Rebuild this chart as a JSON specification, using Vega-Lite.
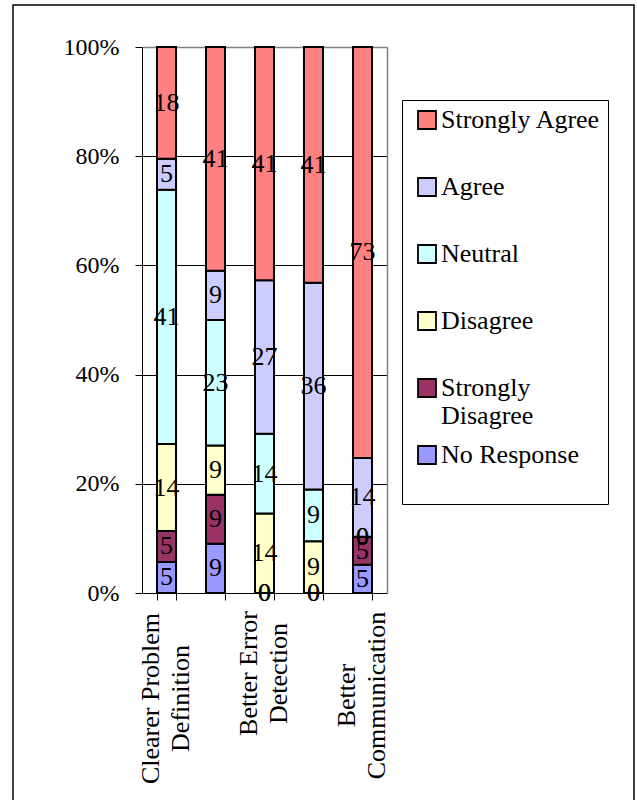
{
  "$schema": "https://vega.github.io/schema/vega-lite/v6.json",
  "autosize": {"type": "none"},
  "width": 621,
  "height": 797,
  "padding": {"left": 13, "top": 5, "right": 3, "bottom": 0},
  "background": "white",
  "config": {
    "font": "Liberation Serif",
    "view": {"stroke": "black", "strokeWidth": 1.5, "fill": "white"}
  },
  "data": {
    "values": [
      {"question": "Clearer Problem Definition", "response": "No Response", "code": 0, "count": 5},
      {"question": "Clearer Problem Definition", "response": "Strongly Disagree", "code": 1, "count": 5},
      {"question": "Clearer Problem Definition", "response": "Disagree", "code": 2, "count": 14},
      {"question": "Clearer Problem Definition", "response": "Neutral", "code": 3, "count": 41},
      {"question": "Clearer Problem Definition", "response": "Agree", "code": 4, "count": 5},
      {"question": "Clearer Problem Definition", "response": "Strongly Agree", "code": 5, "count": 18},
      {"question": "Item 2", "response": "No Response", "code": 0, "count": 9},
      {"question": "Item 2", "response": "Strongly Disagree", "code": 1, "count": 9},
      {"question": "Item 2", "response": "Disagree", "code": 2, "count": 9},
      {"question": "Item 2", "response": "Neutral", "code": 3, "count": 23},
      {"question": "Item 2", "response": "Agree", "code": 4, "count": 9},
      {"question": "Item 2", "response": "Strongly Agree", "code": 5, "count": 41},
      {"question": "Better Error Detection", "response": "No Response", "code": 0, "count": 0},
      {"question": "Better Error Detection", "response": "Strongly Disagree", "code": 1, "count": 0},
      {"question": "Better Error Detection", "response": "Disagree", "code": 2, "count": 14},
      {"question": "Better Error Detection", "response": "Neutral", "code": 3, "count": 14},
      {"question": "Better Error Detection", "response": "Agree", "code": 4, "count": 27},
      {"question": "Better Error Detection", "response": "Strongly Agree", "code": 5, "count": 41},
      {"question": "Item 4", "response": "No Response", "code": 0, "count": 0},
      {"question": "Item 4", "response": "Strongly Disagree", "code": 1, "count": 0},
      {"question": "Item 4", "response": "Disagree", "code": 2, "count": 9},
      {"question": "Item 4", "response": "Neutral", "code": 3, "count": 9},
      {"question": "Item 4", "response": "Agree", "code": 4, "count": 36},
      {"question": "Item 4", "response": "Strongly Agree", "code": 5, "count": 41},
      {"question": "Better Communication", "response": "No Response", "code": 0, "count": 5},
      {"question": "Better Communication", "response": "Strongly Disagree", "code": 1, "count": 5},
      {"question": "Better Communication", "response": "Disagree", "code": 2, "count": 0},
      {"question": "Better Communication", "response": "Neutral", "code": 3, "count": 0},
      {"question": "Better Communication", "response": "Agree", "code": 4, "count": 14},
      {"question": "Better Communication", "response": "Strongly Agree", "code": 5, "count": 73}
    ]
  },
  "transform": [
    {"stack": "count", "groupby": ["question"], "sort": [{"field": "code", "order": "ascending"}], "offset": "normalize", "as": ["y0", "y1"]},
    {"calculate": "(datum.y0 + datum.y1) / 2", "as": "ymid"}
  ],
  "resolve": {"axis": {"x": "independent", "y": "independent"}},
  "layer": [
    {
      "mark": {"type": "bar", "stroke": "black", "strokeWidth": 2},
      "encoding": {
        "x": {
          "field": "question",
          "type": "nominal",
          "scale": {
            "domain": ["Clearer Problem Definition", "Item 2", "Better Error Detection", "Item 4", "Better Communication"],
            "range": [129, 374],
            "paddingInner": 0.612,
            "paddingOuter": 0.306
          },
          "axis": {
            "orient": "bottom",
            "offset": -209,
            "title": null,
            "domainColor": "black",
            "domainWidth": 1,
            "tickColor": "black",
            "tickSize": 7,
            "tickBand": "extent",
            "grid": false,
            "labelAngle": -90,
            "labelAlign": "center",
            "labelBaseline": "middle",
            "labelFont": "Liberation Serif",
            "labelFontSize": 26,
            "labelColor": "black",
            "labelLineHeight": 30,
            "labelLimit": 400,
            "labelOverlap": false,
            "labelOffset": -16,
            "labelPadding": {
              "condition": [
                {"test": "datum.value == 'Better Error Detection'", "value": 73},
                {"test": "datum.value == 'Better Communication'", "value": 95}
              ],
              "value": 98
            },
            "labelExpr": "datum.value == 'Clearer Problem Definition' ? ['Clearer Problem', 'Definition'] : datum.value == 'Better Error Detection' ? ['Better Error', 'Detection'] : datum.value == 'Better Communication' ? ['Better', 'Communication'] : ''"
          }
        },
        "y": {
          "field": "y0",
          "type": "quantitative",
          "scale": {"domain": [0, 1], "range": [588, 42], "nice": false, "zero": false},
          "axis": {
            "orient": "left",
            "offset": -129,
            "title": null,
            "values": [0, 0.2, 0.4, 0.6, 0.8, 1],
            "format": ".0%",
            "domainColor": "black",
            "domainWidth": 1,
            "tickColor": "black",
            "tickSize": 7,
            "grid": true,
            "gridColor": {"condition": {"test": "datum.value == 1", "value": "#808080"}, "value": "black"},
            "gridWidth": 1,
            "gridOpacity": 1,
            "labelFont": "Liberation Serif",
            "labelFontSize": 24,
            "labelColor": "black",
            "labelPadding": 16
          }
        },
        "y2": {"field": "y1"},
        "color": {
          "field": "response",
          "type": "nominal",
          "scale": {
            "domain": ["Strongly Agree", "Agree", "Neutral", "Disagree", "Strongly Disagree", "No Response"],
            "range": ["#FF8080", "#CCCCFF", "#CCFFFF", "#FFFFCC", "#993366", "#9999FF"]
          },
          "legend": {
            "title": " ",
            "titleOrient": "bottom",
            "titleFontSize": 20,
            "titlePadding": 9,
            "orient": "none",
            "legendX": 389,
            "legendY": 95,
            "strokeColor": "black",
            "fillColor": "white",
            "padding": 7,
            "symbolType": "square",
            "symbolSize": 324,
            "symbolStrokeColor": "black",
            "symbolStrokeWidth": 1.8,
            "symbolOpacity": 1,
            "symbolOffset": 5,
            "labelFont": "Liberation Serif",
            "labelFontSize": 26,
            "labelColor": "black",
            "labelOffset": 1,
            "labelLimit": 400,
            "labelLineHeight": 30,
            "gridAlign": "all",
            "rowPadding": 13,
            "labelExpr": "datum.value == 'Strongly Disagree' ? ['Strongly', 'Disagree'] : datum.label"
          }
        }
      }
    },
    {
      "mark": {"type": "text", "font": "Liberation Serif", "fontSize": 26, "color": "black", "align": "center", "baseline": "middle"},
      "encoding": {
        "x": {
          "field": "question",
          "type": "nominal",
          "axis": {"orient": "top", "offset": -42, "title": null, "domainColor": "#808080", "domainWidth": 1.5, "ticks": false, "labels": false, "grid": false}
        },
        "y": {
          "field": "ymid",
          "type": "quantitative",
          "axis": {"orient": "right", "offset": -247, "title": null, "domainColor": "#808080", "domainWidth": 1.5, "ticks": false, "labels": false, "grid": false}
        },
        "text": {"field": "count", "type": "quantitative"}
      }
    }
  ]
}
